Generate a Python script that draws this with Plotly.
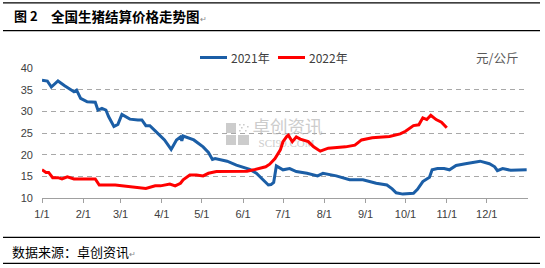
import plotly.graph_objects as go

# ---------------- data ----------------
dates_2021 = ["01-01","01-05","01-08","01-13","01-18","01-22","01-25","01-27","01-30","02-04",
              "02-10","02-12","02-15","02-18","02-20","02-24","02-27","03-02","03-08","03-14",
              "03-17","03-20","03-23","03-27","03-31","04-03","04-08","04-12","04-15","04-16",
              "04-17","04-25","05-02","05-06","05-09","05-11","05-20","05-27","06-06","06-11",
              "06-16","06-20","06-22","06-24","06-26","07-01","07-06","07-11","07-19","07-27",
              "07-31","08-10","08-20","08-30","09-09","09-17","09-21","09-24","09-29","10-07",
              "10-10","10-14","10-19","10-21","10-25","10-30","11-03","11-08","11-15","11-26",
              "12-03","12-07","12-09","12-13","12-19","12-24","12-31"]
price_2021 = [37.2,37.0,35.6,37.0,35.9,35.1,34.5,34.9,33.0,32.2,
              32.1,30.3,30.7,30.3,28.8,26.5,27.0,29.3,28.2,28.0,
              28.0,26.7,26.7,25.5,24.3,23.4,21.2,23.4,24.1,23.2,
              24.3,23.4,21.8,20.5,18.9,19.1,18.5,17.6,16.6,15.7,
              14.2,13.0,13.1,13.6,17.4,16.5,16.8,16.1,15.7,15.1,
              15.7,15.1,14.2,14.2,13.4,13.0,12.1,11.2,10.9,11.1,
              12.0,13.8,14.8,16.5,16.8,16.8,16.5,17.5,17.9,18.5,
              17.9,17.2,16.3,16.8,16.4,16.5,16.5]

dates_2022 = ["01-01","01-04","01-06","01-09","01-13","01-16","01-20","01-25","02-10","02-13",
              "02-25","03-07","03-20","03-27","03-31","04-07","04-11","04-15","04-17","04-22",
              "04-27","05-02","05-06","05-12","05-22","06-04","06-09","06-14","06-18","06-21",
              "06-25","06-29","07-01","07-04","07-05","07-08","07-11","07-14","07-20","07-24",
              "07-29","08-04","08-17","08-24","08-29","09-06","09-16","09-19","09-27","10-01",
              "10-07","10-11","10-14","10-17","10-20","10-24","10-28","11-01"]
price_2022 = [16.5,15.9,15.9,14.7,14.7,14.4,14.9,14.4,14.4,13.0,
              13.0,12.6,12.2,12.8,12.8,13.2,12.8,13.4,14.2,15.3,
              15.3,15.1,15.7,16.1,16.2,16.2,16.5,16.8,17.2,17.8,
              19.1,21.1,23.0,24.3,24.5,23.0,24.1,23.6,23.0,21.8,
              20.8,21.5,21.8,22.2,23.4,23.9,24.1,24.2,24.8,25.4,
              26.7,26.9,28.5,28.1,29.1,28.1,27.5,26.2]

month_ticks = ["01-01","02-01","03-01","04-01","05-01","06-01","07-01",
               "08-01","09-01","10-01","11-01","12-01"]
month_labels = ["1/1","2/1","3/1","4/1","5/1","6/1","7/1","8/1","9/1","10/1","11/1","12/1"]
y_ticks = [10, 15, 20, 25, 30, 35, 40]
series_names = ["2021年", "2022年"]
colors = ["#1B5EA6", "#FF0000"]

BASE = "2021-"  # common (non-leap) year used only for month/day positioning

# ---------------- layout geometry (pixels) ----------------
W, H = 545, 268
L, R, T, B = 42, 17, 68, 70
pw, ph = W - L - R, H - T - B

def px(x):
    return (x - L) / pw

def py(y):
    return (H - B - y) / ph

FONT = "Liberation Sans, Arial, sans-serif"
CJK = "Noto Sans CJK SC"

fig = go.Figure()
for name, d, v, c in [(series_names[0], dates_2021, price_2021, colors[0]),
                      (series_names[1], dates_2022, price_2022, colors[1])]:
    fig.add_trace(go.Scatter(x=[BASE + s for s in d], y=v, mode="lines", name=name,
                             line=dict(color=c, width=3), showlegend=False))

fig.update_layout(
    width=W, height=H, margin=dict(l=L, r=R, t=T, b=B),
    paper_bgcolor="white", plot_bgcolor="white",
    font=dict(family=FONT, size=11, color="#404040"),
    xaxis=dict(type="date", range=["2021-01-01", "2022-01-01"],
               tickvals=[BASE + s for s in month_ticks], ticktext=month_labels,
               showgrid=False, zeroline=False, showline=True, linecolor="#A0A0A0", linewidth=1,
               ticks="outside", ticklen=4, tickcolor="#A0A0A0", ticklabelstandoff=2,
               tickfont=dict(family=FONT, size=11, color="#404040")),
    yaxis=dict(range=[10, 40], tickvals=y_ticks, showgrid=True, gridcolor="#A8A8A8",
               griddash="5px,4px", gridwidth=1.3, zeroline=False, showline=False,
               ticks="", ticklabelstandoff=8,
               tickfont=dict(family=FONT, size=11, color="#404040")),
)

shapes = []
ann = []
# horizontal rules of the document frame
for y in [2.8, 30.7, 237.3, 263.3]:
    shapes.append(dict(type="line", xref="paper", yref="paper", x0=px(3), x1=px(540),
                       y0=py(y), y1=py(y), line=dict(color="black", width=1.3)))

# title
ann.append(dict(xref="paper", yref="paper", x=px(12), y=py(15.5), xanchor="left", yanchor="middle",
                text="<b>图 2</b>", showarrow=False, font=dict(family=CJK, size=13, color="black")))
ann.append(dict(xref="paper", yref="paper", x=px(49), y=py(15.5), xanchor="left", yanchor="middle",
                text="<b>全国生猪结算价格走势图</b><span style='font-size:8px;color:#888'>↵</span>",
                showarrow=False, font=dict(family=CJK, size=13.5, color="black")))
# footer
ann.append(dict(xref="paper", yref="paper", x=px(10), y=py(251.5), xanchor="left", yanchor="middle",
                text="数据来源：卓创资讯<span style='font-size:8px;color:#888'>↵</span>",
                showarrow=False, font=dict(family=CJK, size=13, color="black")))

# legend (manual)
legend_items = [(200, 227, 229), (278, 305, 307)]
for (x0, x1, xt), name, c in zip(legend_items, series_names, colors):
    shapes.append(dict(type="line", xref="paper", yref="paper", x0=px(x0), x1=px(x1),
                       y0=py(57.5), y1=py(57.5), line=dict(color=c, width=3)))
    ann.append(dict(xref="paper", yref="paper", x=px(xt), y=py(57.5), xanchor="left",
                    yanchor="middle", text=name, showarrow=False,
                    font=dict(family=CJK, size=12, color="#404040")))
# unit label
ann.append(dict(xref="paper", yref="paper", x=px(520), y=py(57.5), xanchor="right",
                yanchor="middle", text="元/公斤", showarrow=False,
                font=dict(family=CJK, size=12.5, color="#595959")))

# watermark (logo blocks + text), drawn below traces
wm = "#CCCCCC"
for (a, b, c2, d2) in [(226, 123, 236, 133), (238, 135, 249, 145), (226, 135, 236, 145)]:
    shapes.append(dict(type="rect", xref="paper", yref="paper", x0=px(a), x1=px(c2),
                       y0=py(b), y1=py(d2), fillcolor=wm, line=dict(width=0), layer="below"))
for (a, b) in [(239, 124), (243, 124), (241, 127), (239, 130), (245, 130), (247, 126)]:
    shapes.append(dict(type="rect", xref="paper", yref="paper", x0=px(a), x1=px(a + 1.6),
                       y0=py(b), y1=py(b + 1.6), fillcolor=wm, line=dict(width=0), layer="below"))
shapes.append(dict(type="rect", xref="paper", yref="paper", x0=px(250), x1=px(325),
                   y0=py(119), y1=py(137), line=dict(width=0), fillcolor="rgba(0,0,0,0)",
                   layer="below",
                   label=dict(text="卓创资讯", font=dict(family=CJK, size=17.5, color=wm),
                              textposition="middle center")))
shapes.append(dict(type="rect", xref="paper", yref="paper", x0=px(248), x1=px(325),
                   y0=py(136), y1=py(148), line=dict(width=0), fillcolor="rgba(0,0,0,0)",
                   layer="below",
                   label=dict(text="SCI99.COM", font=dict(family="Liberation Serif, serif", size=11, color=wm),
                              textposition="middle center")))

fig.update_layout(shapes=shapes, annotations=ann)
fig.write_html("out.html")
